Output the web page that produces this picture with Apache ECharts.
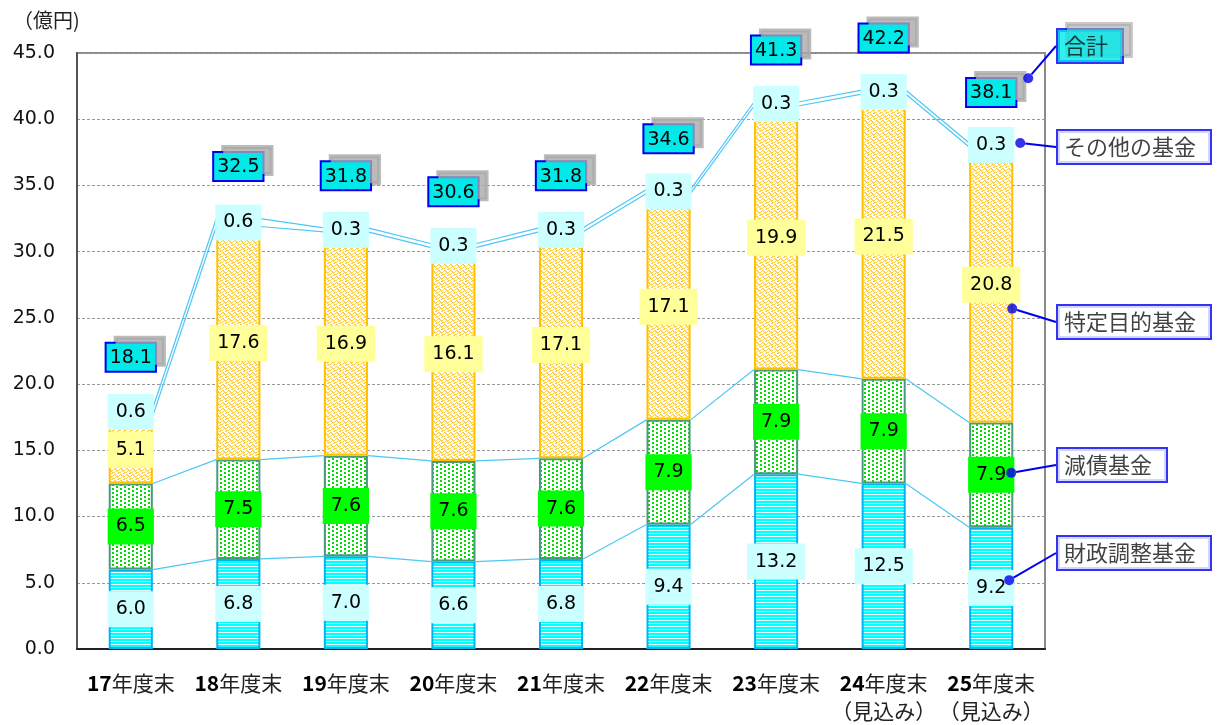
<!DOCTYPE html>
<html>
<head>
<meta charset="utf-8">
<script src="https://cdn.jsdelivr.net/npm/echarts@6/dist/echarts.min.js"></script>
<style>
	html,body{margin:0;padding:0;background:#fff;}
	#chart{width:1223px;height:725px;}
</style>
</head>
<body>
<div id="chart"></div>
<script>
var categories = ['17年度末', '18年度末', '19年度末', '20年度末', '21年度末', '22年度末', '23年度末', '24年度末\n（見込み）', '25年度末\n（見込み）'];
var fiscalFund = [6.0, 6.8, 7.0, 6.6, 6.8, 9.4, 13.2, 12.5, 9.2];
var debtFund = [6.5, 7.5, 7.6, 7.6, 7.6, 7.9, 7.9, 7.9, 7.9];
var specialFund = [5.1, 17.6, 16.9, 16.1, 17.1, 17.1, 19.9, 21.5, 20.8];
var otherFund = [0.6, 0.6, 0.3, 0.3, 0.3, 0.3, 0.3, 0.3, 0.3];
var totals = [18.1, 32.5, 31.8, 30.6, 31.8, 34.6, 41.3, 42.2, 38.1];
var yTicks = [0, 5, 10, 15, 20, 25, 30, 35, 40, 45];

// callouts on the right: name and the value where the dot sits at the last bar
var calloutNames = ['合計', 'その他の基金', '特定目的基金', '減債基金', '財政調整基金'];
var calloutValues = [43.1, 38.2, 25.7, 13.3, 5.2];
var calloutBoxY = [46, 147, 322, 465, 553];
var calloutDotShift = [37, 29, 21, 20, 18];

var numFont = 'DejaVu Sans';
var jpFont = 'Noto Sans CJK JP';

function makePattern(type){
	var c = document.createElement('canvas');
	var g;
	if(type=='stripe'){
		c.width = 4; c.height = 3;
		g = c.getContext('2d');
		g.fillStyle = '#00ffff';
		g.fillRect(0,0,4,3);
		g.fillStyle = '#e6ffff';
		g.fillRect(0,2,4,1);
	}else if(type=='dots'){
		c.width = 8; c.height = 4;
		g = c.getContext('2d');
		g.fillStyle = '#ffffff';
		g.fillRect(0,0,8,4);
		g.fillStyle = '#00dd00';
		g.fillRect(0,0,2,2);
		g.fillRect(4,2,2,2);
	}else{
		c.width = 6; c.height = 6;
		g = c.getContext('2d');
		g.fillStyle = '#ffffff';
		g.fillRect(0,0,6,6);
		g.fillStyle = '#ffd04a';
		g.fillRect(0,0,2,1); g.fillRect(1,1,2,1); g.fillRect(2,2,2,1);
		g.fillRect(3,3,1,1); g.fillRect(4,2,1,1); g.fillRect(5,1,1,1);
		g.fillRect(3,5,2,1); g.fillRect(4,4,2,1); g.fillRect(0,4,1,1); g.fillRect(1,3,1,1);
	}
	return {image: c, repeat: 'repeat'};
}

function cumulate(list){
	var out = [];
	for(var i=0;i<list[0].length;i++){
		var s = 0;
		for(var k=0;k<list.length;k++){ s += list[k][i]; }
		out.push(s);
	}
	return out;
}
var cums = [
	cumulate([fiscalFund]),
	cumulate([fiscalFund, debtFund]),
	cumulate([fiscalFund, debtFund, specialFund]),
	cumulate([fiscalFund, debtFund, specialFund, otherFund])
];

function segLabel(bg){
	return {
		show: true,
		position: 'inside',
		formatter: function(p){ return p.value.toFixed(1); },
		fontFamily: numFont,
		fontSize: 19,
		color: '#000',
		backgroundColor: bg,
		padding: [9, 8, 8, 8]
	};
}

function barSeries(name, data, pattern, border, labelBg){
	return {
		name: name,
		type: 'bar',
		stack: 'fund',
		barWidth: '41%',
		z: 2,
		data: data,
		itemStyle: {color: makePattern(pattern), borderColor: border, borderWidth: 2},
		label: segLabel(labelBg)
	};
}

var totalBox = {
	backgroundColor: '#00eaea',
	borderColor: '#0000ee',
	borderWidth: 2,
	shadowColor: 'rgba(170,170,170,0.8)',
	shadowOffsetX: 9,
	shadowOffsetY: -6
};

var calloutData = [];
for(var i=0;i<calloutNames.length;i++){
	var item = {
		value: [categories.length - 1, calloutValues[i]],
		name: calloutNames[i],
		symbolOffset: [calloutDotShift[i], 0]
	};
	if(i==0){
		item.label = totalBox;
	}
	calloutData.push(item);
}

var chart = echarts.init(document.getElementById('chart'));
var option = {
	animation: false,
	title: {
		text: '（億円)',
		left: 8,
		top: 5,
		textStyle: {fontFamily: jpFont, fontSize: 20, fontWeight: 'normal', color: '#222'}
	},
	grid: {
		left: 77, right: 178, top: 53, bottom: 72,
		show: true, borderColor: '#8a8a8a', borderWidth: 2, backgroundColor: '#fff'
	},
	xAxis: {
		type: 'category',
		data: categories,
		axisLine: {lineStyle: {color: '#222', width: 2}},
		axisTick: {inside: true, length: 7, lineStyle: {color: '#222'}},
		axisLabel: {
			interval: 0,
			margin: 20,
			fontFamily: jpFont,
			fontSize: 21,
			color: '#222',
			lineHeight: 28,
			formatter: function(v){
				var m = v.match(/^(\d+)([\s\S]*)$/);
				return '{d|' + m[1] + '}' + m[2];
			},
			rich: {d: {fontFamily: jpFont, fontSize: 21, fontWeight: 'bold', color: '#000', lineHeight: 28}}
		}
	},
	yAxis: {
		type: 'value',
		min: yTicks[0],
		max: yTicks[yTicks.length - 1],
		interval: 5,
		axisLine: {show: true, lineStyle: {color: '#555', width: 2}},
		axisTick: {show: false},
		axisLabel: {
			margin: 22,
			fontFamily: numFont,
			fontSize: 19,
			color: '#111',
			formatter: function(v){ return v.toFixed(1); }
		},
		splitLine: {lineStyle: {color: '#999', type: [3, 2], width: 1}}
	},
	series: [
		{
			type: 'custom',
			z: 1,
			silent: true,
			data: categories.slice(0, categories.length - 1).map(function(c, i){ return [i, 0]; }),
			encode: {x: 0, y: 1},
			renderItem: function(params, api){
				var idx = api.value(0);
				var half = api.size([1, 0])[0] * 0.205;
				var children = [];
				for(var k=0;k<cums.length;k++){
					var p1 = api.coord([idx, cums[k][idx]]);
					var p2 = api.coord([idx + 1, cums[k][idx + 1]]);
					children.push({
						type: 'line',
						shape: {x1: p1[0] + half, y1: p1[1], x2: p2[0] - half, y2: p2[1]},
						style: {stroke: '#4cc8f4', lineWidth: 1.2}
					});
				}
				return {type: 'group', children: children};
			}
		},
		barSeries('財政調整基金', fiscalFund, 'stripe', '#00b4f0', '#ccffff'),
		barSeries('減債基金', debtFund, 'dots', '#4b9a7c', '#00ff00'),
		barSeries('特定目的基金', specialFund, 'zigzag', '#ffc000', '#ffff99'),
		barSeries('その他の基金', otherFund, 'stripe', '#33ccff', '#ccffff'),
		{
			name: '合計',
			type: 'line',
			z: 3,
			data: totals,
			symbol: 'circle',
			symbolSize: 1,
			showSymbol: true,
			itemStyle: {color: 'rgba(0,0,0,0)'},
			lineStyle: {width: 0, color: 'rgba(0,0,0,0)'},
			label: echarts.util.extend({
				show: true,
				position: 'top',
				distance: 38,
				formatter: function(p){ return p.value.toFixed(1); },
				fontFamily: numFont,
				fontSize: 19,
				color: '#000',
				padding: [5, 3, 3, 3]
			}, totalBox)
		},
		{
			type: 'scatter',
			z: 4,
			data: calloutData,
			symbol: 'circle',
			symbolSize: 10,
			itemStyle: {color: '#0000e6'},
			label: {
				show: true,
				formatter: '{b}',
				fontFamily: jpFont,
				fontSize: 22,
				color: '#111',
				backgroundColor: '#fff',
				borderColor: '#0000ee',
				borderWidth: 2,
				padding: [6, 14, 4, 6]
			},
			labelLayout: function(p){
				return {x: 1058, y: calloutBoxY[p.dataIndex], align: 'left', verticalAlign: 'middle'};
			},
			labelLine: {show: true, lineStyle: {color: '#0000ee', width: 2}}
		}
	]
};
chart.setOption(option);
</script>
</body>
</html>
